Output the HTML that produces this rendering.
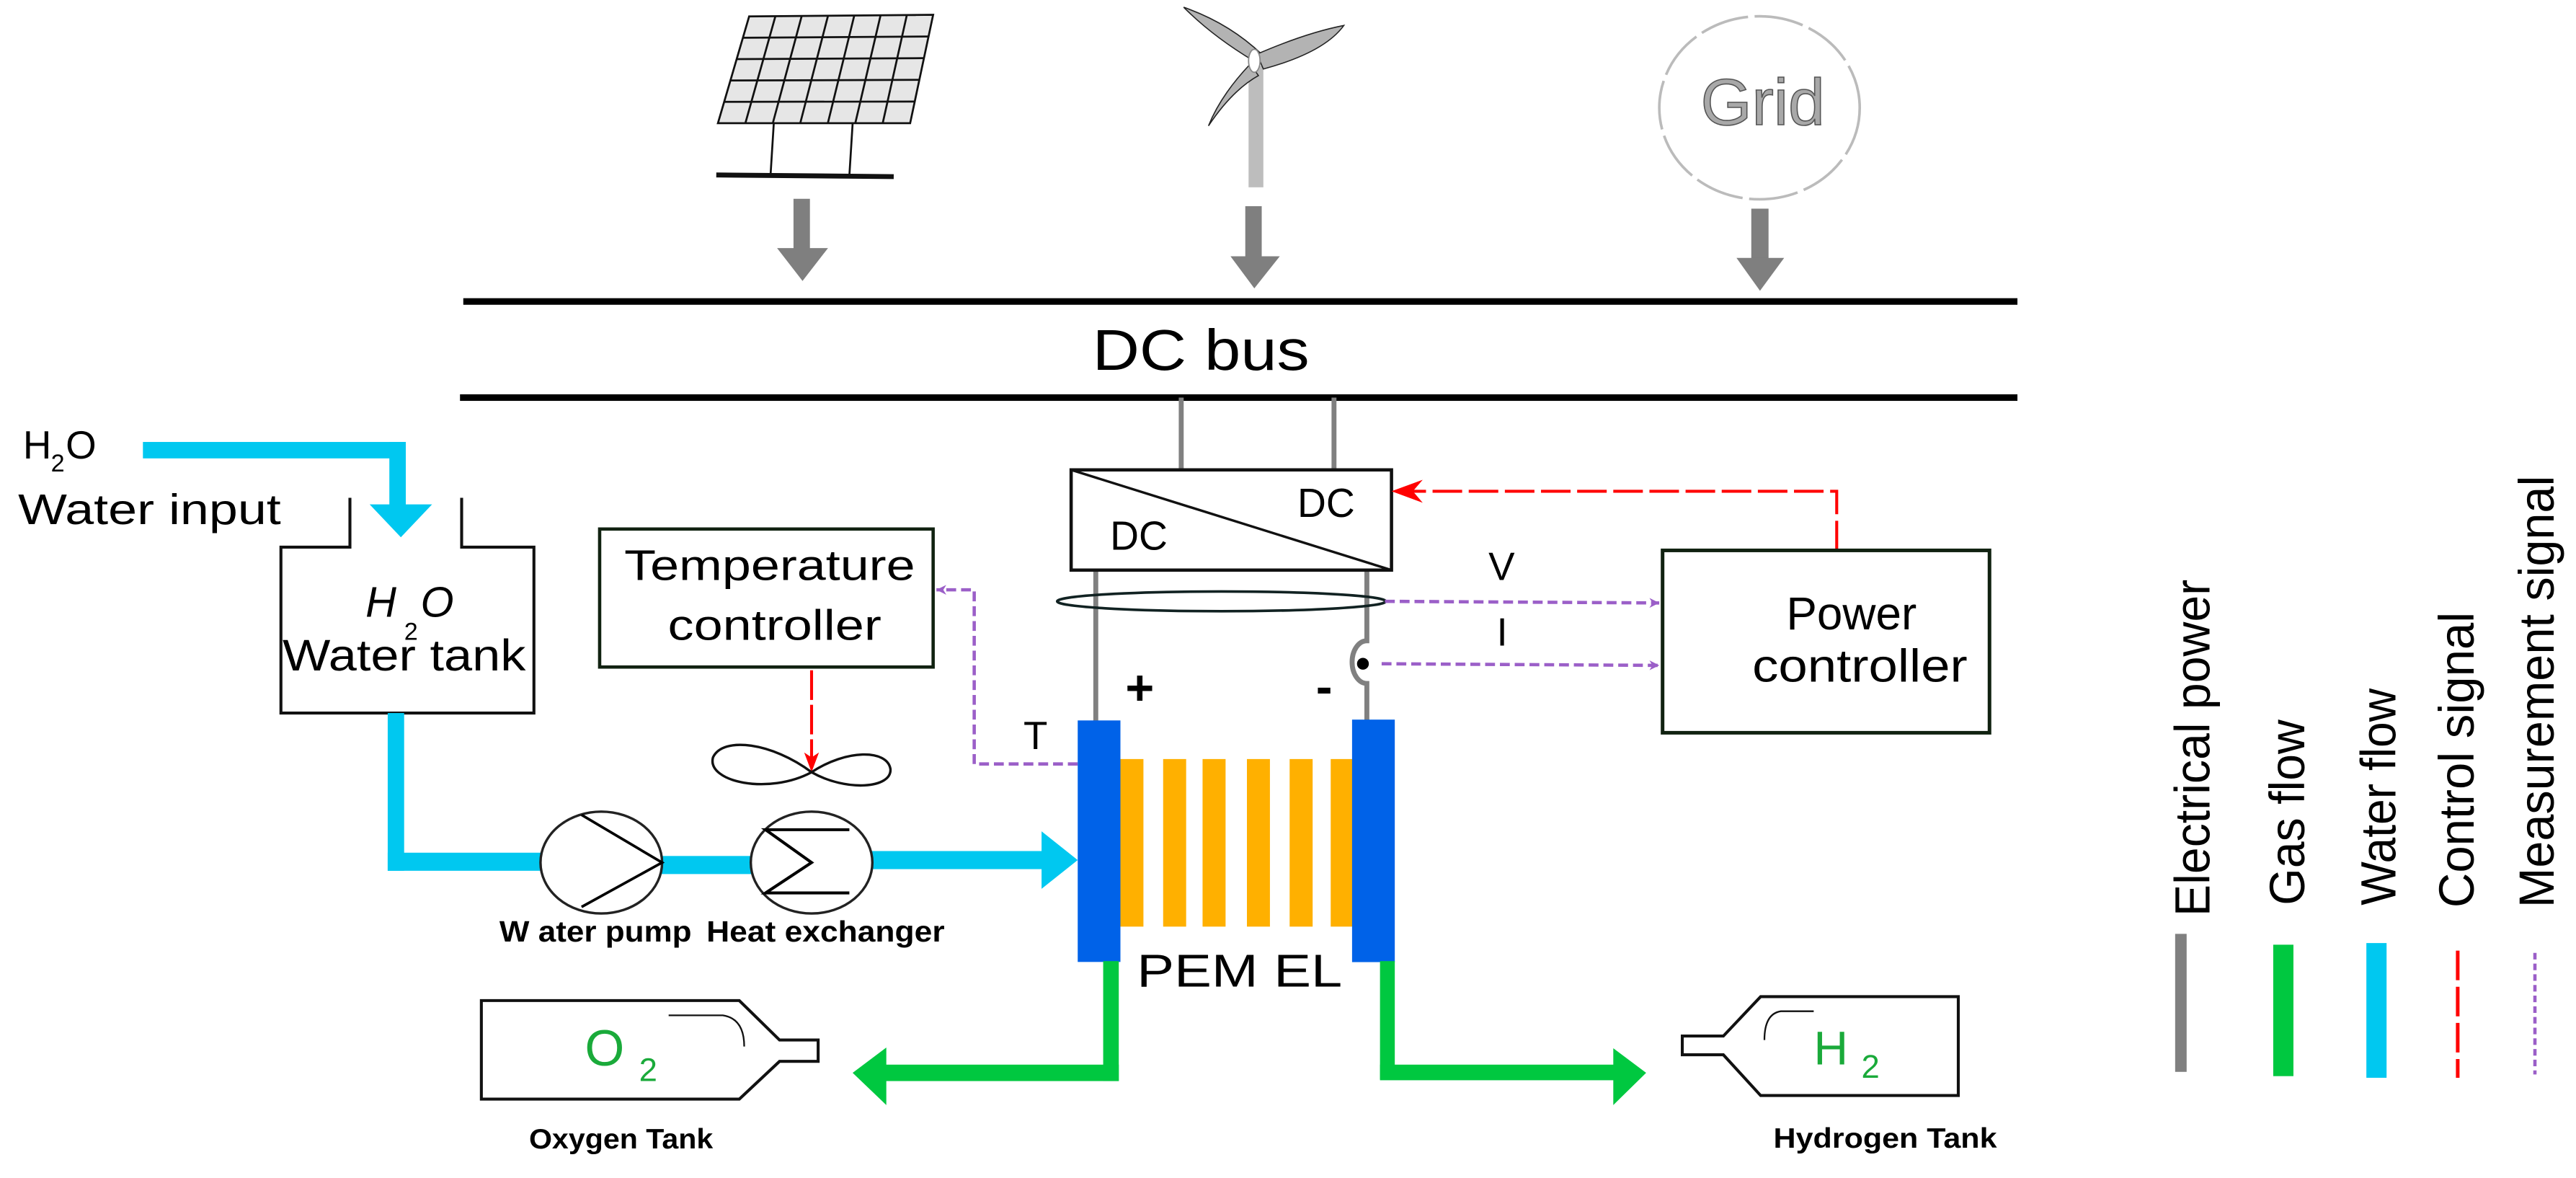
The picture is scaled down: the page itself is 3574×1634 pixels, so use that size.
<!DOCTYPE html>
<html><head><meta charset="utf-8"><style>
html,body{margin:0;padding:0;background:#fff;}
svg{display:block;}
text{font-family:"Liberation Sans",sans-serif;}
</style></head><body>
<svg width="3574" height="1634" viewBox="0 0 1568 717" preserveAspectRatio="none" xmlns="http://www.w3.org/2000/svg">
<defs>
<marker id="pa" viewBox="0 0 10 10" refX="10" refY="5" markerWidth="6" markerHeight="6" orient="auto" markerUnits="userSpaceOnUse"><path d="M0,0 L10,5 L0,10 L3,5 Z" fill="#9b5fc8"/></marker>
</defs>
<rect width="1568" height="717" fill="#fff"/>

<!-- Solar panel -->
<g stroke="#111" stroke-width="1.2" fill="none">
<path d="M456,10 L568,9 L554,75 L437,75 Z" fill="#e6e6e6"/>
<path d="M472,9.8 L453.7,75 M488,9.7 L470.4,75 M504,9.6 L487.1,75 M520,9.4 L503.9,75 M536,9.3 L520.6,75 M552,9.1 L537.3,75"/>
<path d="M452.2,23 L565.2,22.2 M448.4,36 L562.4,35.4 M444.6,49 L559.6,48.6 M440.8,62 L556.8,61.8"/>
<path d="M471,75 L469,107 M519,75 L517,107"/>
<path d="M436,106.5 L544,107.5" stroke-width="3"/>
</g>
<g fill="#7f7f7f">
<rect x="483" y="121" width="10" height="32"/><path d="M473,151 L504,151 L488.5,171 Z"/>
<rect x="758" y="125.5" width="10" height="32"/><path d="M749,156 L779,156 L763.5,175.5 Z"/>
<rect x="1066" y="127" width="10.5" height="31"/><path d="M1057,157 L1086,157 L1071.3,177 Z"/>
</g>
<!-- Wind turbine -->
<rect x="760" y="40" width="9" height="74" fill="#bdbdbd"/>
<g fill="#b3b3b3" stroke="#222" stroke-width="0.7">
<path d="M763,37 Q738,22 720.5,4.4 Q748,14 768,33 Z"/>
<path d="M765,33 Q795,20 818,15.5 Q806,32 769,42 Z"/>
<path d="M761,39 Q743,58 735.6,76.6 Q750,55 766,46 Z"/>
</g>
<ellipse cx="763.5" cy="37" rx="3.5" ry="7" fill="#fff" stroke="#888" stroke-width="0.8"/>
<!-- Grid -->
<ellipse cx="1071" cy="65.6" rx="61" ry="55.7" fill="none" stroke="#bbbbbb" stroke-width="1.6" stroke-dasharray="30,4"/>
<text x="1073" y="76" font-size="40" text-anchor="middle" fill="#a8a8a8" stroke="#555" stroke-width="0.7">Grid</text>

<!-- DC bus -->
<rect x="282" y="181.5" width="946" height="4" fill="#000"/>
<rect x="280" y="240" width="948" height="4" fill="#000"/>
<text x="665" y="225" font-size="35" textLength="132" lengthAdjust="spacingAndGlyphs">DC bus</text>

<!-- converter -->
<g stroke="#808080" stroke-width="3" fill="none">
<path d="M719,242 L719,287 M812,242 L812,287"/>
<path d="M667,347 L667,439"/>
<path d="M832,347 L832,390 A9,13 0 0 0 832,416 L832,439"/>
</g>
<circle cx="829.6" cy="404" r="3.6" fill="#000"/>
<rect x="652" y="286" width="195" height="61" fill="none" stroke="#111" stroke-width="2"/>
<path d="M652,286 L847,347" stroke="#111" stroke-width="1.5"/>
<text x="789.7" y="314.7" font-size="25" textLength="35" lengthAdjust="spacingAndGlyphs">DC</text>
<text x="675.7" y="334.7" font-size="25" textLength="35" lengthAdjust="spacingAndGlyphs">DC</text>
<ellipse cx="743.5" cy="366" rx="100" ry="6" fill="none" stroke="#112222" stroke-width="1.6"/>
<text x="906" y="353" font-size="24">V</text>
<text x="911" y="393" font-size="24">I</text>

<!-- measurement -->
<g stroke="#9b5fc8" stroke-width="2" fill="none" stroke-dasharray="6,3">
<path d="M843,366 L1010,367" marker-end="url(#pa)"/>
<path d="M841,404 L1010,405" marker-end="url(#pa)"/>
<path d="M656,465 L593,465 L593,359 L570,359" marker-end="url(#pa)"/>
</g>
<!-- control -->
<g stroke="#ff0000" stroke-width="1.8" fill="none">
<path d="M1118,335 L1118,299 L852,299" stroke-dasharray="18,4"/>
<path d="M494,408 L494,462" stroke-dasharray="18,3"/>
</g>
<path d="M847,299 L866,292 L860,299 L866,306 Z" fill="#ff0000"/>
<path d="M494,470 L489.5,458 L494,461 L498.5,458 Z" fill="#ff0000"/>

<!-- Power controller -->
<rect x="1012" y="335" width="199" height="111" fill="none" stroke="#112211" stroke-width="2.2"/>
<text x="1127" y="383" font-size="28" text-anchor="middle">Power</text>
<text x="1066.6" y="415" font-size="28" textLength="131" lengthAdjust="spacingAndGlyphs">controller</text>

<!-- Temperature controller -->
<rect x="365" y="322" width="203" height="84" fill="none" stroke="#112211" stroke-width="2"/>
<text x="380" y="353" font-size="26" textLength="177" lengthAdjust="spacingAndGlyphs">Temperature</text>
<text x="406.5" y="389.5" font-size="26" textLength="130" lengthAdjust="spacingAndGlyphs">controller</text>
<path d="M494,470 C470,452 440,448 434,461 C430,476 468,484 494,470 C515,456 540,456 542,468 C543,480 515,482 494,470 Z" fill="none" stroke="#111" stroke-width="1.5"/>

<!-- water input -->
<text x="14" y="279" font-size="24">H</text><text x="31" y="287" font-size="15">2</text><text x="40" y="279" font-size="24">O</text>
<text x="11" y="319" font-size="26" textLength="160" lengthAdjust="spacingAndGlyphs">Water input</text>
<g fill="#00c8f0">
<rect x="87" y="269" width="160" height="10"/>
<rect x="237" y="269" width="10" height="40"/>
<path d="M225,307 L263,307 L244,327 Z"/>
</g>
<path d="M213,303 L213,333 L171,333 L171,434 L325,434 L325,333 L281,333 L281,303" fill="none" stroke="#111" stroke-width="1.8"/>
<text x="222.5" y="375.5" font-size="26" font-style="italic">H</text>
<text x="246" y="389.5" font-size="15">2</text>
<text x="256" y="375.5" font-size="26" font-style="italic">O</text>
<text x="172" y="408" font-size="27" textLength="148" lengthAdjust="spacingAndGlyphs">Water tank</text>

<!-- water path -->
<g fill="#00c8f0">
<rect x="236" y="434" width="10" height="96"/>
<rect x="236" y="519" width="94" height="11"/>
<rect x="402" y="521" width="56" height="11"/>
<rect x="530" y="518" width="106" height="11"/>
<path d="M634,506 L656,523.5 L634,541 Z"/>
</g>
<ellipse cx="366" cy="525" rx="37" ry="31" fill="#fff" stroke="#222" stroke-width="1.5"/>
<path d="M354,496 L403,525 L354,552" fill="none" stroke="#000" stroke-width="1.6"/>
<ellipse cx="494" cy="525" rx="37" ry="31" fill="#fff" stroke="#222" stroke-width="1.5"/>
<path d="M517,505 L466,505 L494,525 L466,543.5 L517,543.5" fill="none" stroke="#000" stroke-width="1.8"/>
<text x="304" y="573" font-size="18" font-weight="bold" textLength="117" lengthAdjust="spacingAndGlyphs">W ater pump</text>
<text x="430" y="573" font-size="18" font-weight="bold" textLength="145" lengthAdjust="spacingAndGlyphs">Heat exchanger</text>

<!-- PEM EL -->
<g fill="#ffb000">
<rect x="682" y="462" width="14" height="102"/>
<rect x="708" y="462" width="14" height="102"/>
<rect x="732" y="462" width="14" height="102"/>
<rect x="759" y="462" width="14" height="102"/>
<rect x="785" y="462" width="14" height="102"/>
<rect x="810" y="462" width="14" height="102"/>
</g>
<rect x="656" y="438.5" width="26" height="147" fill="#0062e8"/>
<rect x="823" y="438" width="26" height="147.6" fill="#0062e8"/>
<text x="685" y="429" font-size="30" font-weight="bold">+</text>
<text x="801" y="428" font-size="30" font-weight="bold">-</text>
<text x="623" y="456" font-size="24">T</text>
<text x="692" y="600.5" font-size="28" textLength="125" lengthAdjust="spacingAndGlyphs">PEM EL</text>

<!-- gas -->
<g fill="#00c840">
<rect x="671.5" y="585" width="9.5" height="73"/>
<rect x="538" y="648" width="143" height="10"/>
<path d="M539.5,637.6 L519,653 L539.5,672.6 Z"/>
<rect x="840" y="585" width="9" height="72"/>
<rect x="840" y="648" width="144" height="9.5"/>
<path d="M982,638 L1002,653 L982,672.6 Z"/>
</g>
<path d="M293,609 L450,609 L474.5,633 L498,633 L498,646 L474.5,646 L450,669 L293,669 Z" fill="none" stroke="#111" stroke-width="1.8"/>
<path d="M407,618 L440,618 Q453,620 453,637" fill="none" stroke="#111" stroke-width="1"/>
<text x="356" y="648.6" font-size="31" fill="#1aaa3a">O</text>
<text x="389" y="658" font-size="20" fill="#1aaa3a">2</text>
<text x="322" y="699" font-size="17" font-weight="bold" textLength="112" lengthAdjust="spacingAndGlyphs">Oxygen Tank</text>
<path d="M1192,606.6 L1071.7,606.6 L1049,630.6 L1024,630.6 L1024,642 L1049,642 L1071.7,666.8 L1192,666.8 Z" fill="none" stroke="#111" stroke-width="1.8"/>
<path d="M1104,615.5 L1084,615.5 Q1074,617 1074,633" fill="none" stroke="#111" stroke-width="1"/>
<text x="1104" y="648" font-size="29" fill="#1aaa3a">H</text>
<text x="1133" y="656" font-size="20" fill="#1aaa3a">2</text>
<text x="1079.5" y="698.6" font-size="17" font-weight="bold" textLength="136" lengthAdjust="spacingAndGlyphs">Hydrogen Tank</text>

<!-- legend -->
<rect x="1324" y="568.4" width="7" height="84" fill="#808080"/>
<rect x="1383.7" y="575" width="12.3" height="80" fill="#00c840"/>
<rect x="1440.4" y="574" width="12.3" height="82" fill="#00c8f0"/>
<path d="M1496,578.6 L1496,656" stroke="#ff0000" stroke-width="2.2" stroke-dasharray="18,4"/>
<path d="M1543,580 L1543,654" stroke="#9b5fc8" stroke-width="2" stroke-dasharray="4,2.5"/>
<g font-size="30">
<text transform="translate(1345,557.7) rotate(-90)" textLength="205" lengthAdjust="spacingAndGlyphs">Electrical power</text>
<text transform="translate(1402.6,551) rotate(-90)" textLength="113" lengthAdjust="spacingAndGlyphs">Gas flow</text>
<text transform="translate(1458,551) rotate(-90)" textLength="132" lengthAdjust="spacingAndGlyphs">Water flow</text>
<text transform="translate(1505.6,552.5) rotate(-90)" textLength="180" lengthAdjust="spacingAndGlyphs">Control signal</text>
<text transform="translate(1554.4,552.5) rotate(-90)" textLength="263" lengthAdjust="spacingAndGlyphs">Measurement signal</text>
</g>
</svg>
</body></html>
